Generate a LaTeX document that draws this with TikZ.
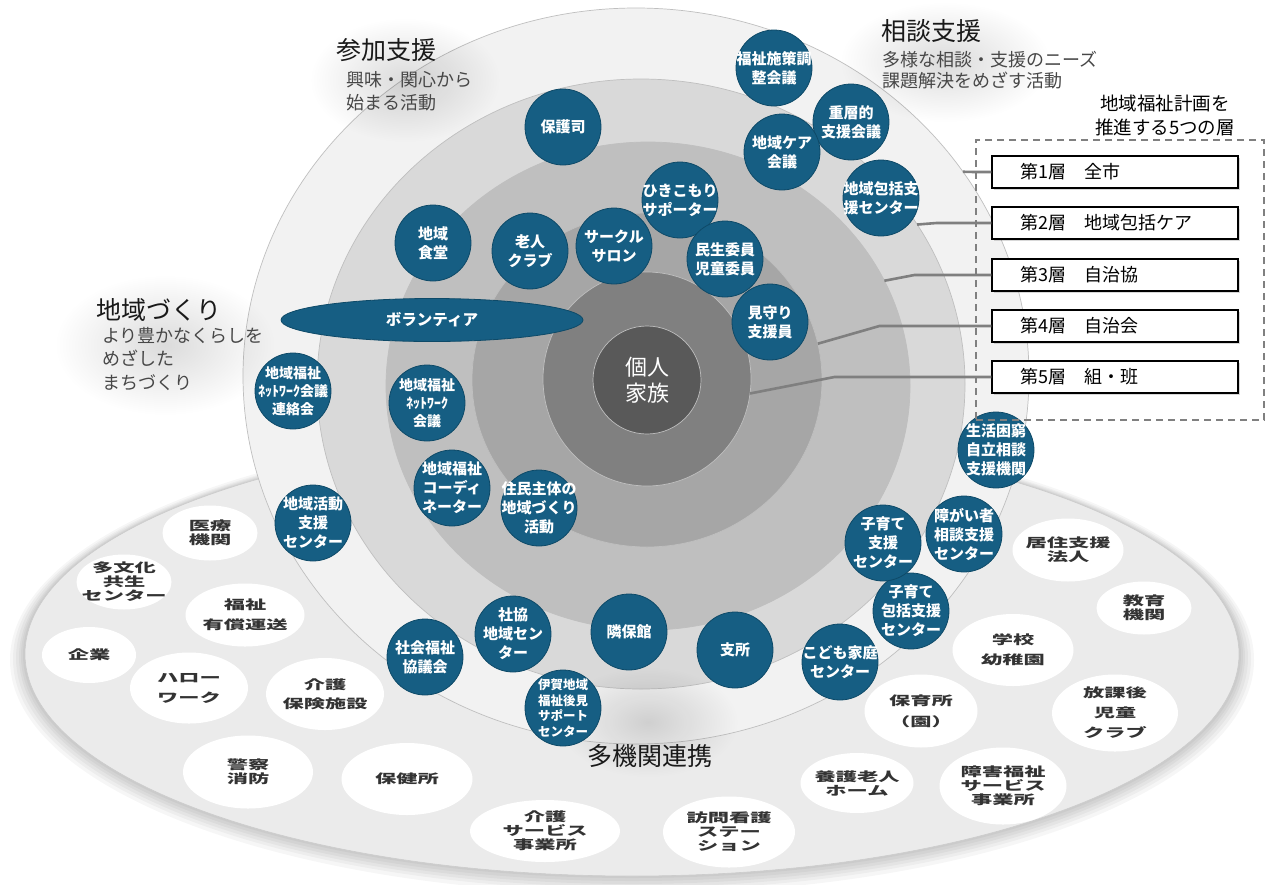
\documentclass[tikz,border=0pt]{standalone}
\usepackage{fontspec}
\setmainfont{Noto Sans CJK JP}
\newfontfamily\widefont[FakeStretch=1.7]{Noto Sans CJK JP}
\usetikzlibrary{positioning,shapes.geometric,shadows,fadings}

\definecolor{unitblue}{HTML}{165E83}
\definecolor{unitedge}{HTML}{0E4A68}
\definecolor{ringA}{HTML}{F2F2F2}
\definecolor{ringB}{HTML}{D9D9D9}
\definecolor{ringC}{HTML}{BFBFBF}
\definecolor{ringD}{HTML}{A6A6A6}
\definecolor{ringE}{HTML}{808080}
\definecolor{ringcore}{HTML}{595959}
\definecolor{floorgray}{HTML}{EBEBEB}
\definecolor{linegray}{HTML}{7F7F7F}

\tikzfading[name=glowfade, inner color=transparent!86, outer color=transparent!100]

\tikzset{
  ring/.style={ellipse, inner sep=0pt, outer sep=0pt, draw=black!25, line width=0.7pt},
  unitbase/.style={circle, fill=unitblue, draw=unitedge, line width=0.8pt, minimum size=76pt, inner sep=0pt},
  unittext/.style={text=white, align=center, inner sep=0pt, font=\fontsize{15}{19}\selectfont\bfseries},
  unit/.style={unitbase, label={[unittext]center:#1}},
  unitmd/.style={unitbase, label={[unittext, font=\fontsize{14}{18}\selectfont\bfseries]center:#1}},
  unitsm/.style={unitbase, label={[unittext, font=\fontsize{12.5}{15.5}\selectfont\bfseries]center:#1}},
  agencytext/.style={text=black!80, align=center, inner sep=0pt, font=\widefont\bfseries\fontsize{12.5}{14}\selectfont},
  agency/.style={ellipse, fill=white, inner sep=0pt, label={[agencytext]center:#1}},
  title/.style={inner sep=0pt, text=black!90, font=\fontsize{25}{30}\selectfont},
  subtitle/.style={inner sep=0pt, text=black!72, align=left, font=\fontsize{18}{23.5}\selectfont},
  floorshade/.style={fill=black, opacity=0.035},
  legendbox/.style={draw=black!50, line width=1.8pt, dash pattern=on 7pt off 5pt, minimum width=288pt, minimum height=280pt, inner sep=0pt},
  layer/.style={draw=black, line width=1.2pt, fill=white, minimum width=246pt, minimum height=32pt, text width=190pt, inner xsep=28pt, inner ysep=0pt, align=left, font=\fontsize{18}{20}\selectfont, drop shadow={shadow xshift=1.5pt, shadow yshift=-1.5pt, opacity=0.3}},
  layerline/.style={draw=linegray, line width=2.6pt}
}

\begin{document}
\begin{tikzpicture}[x=1pt,y=-1pt]
\useasboundingbox[fill=white] (0,0) rectangle (1269,884);

% floor of the agencies, with a soft shadow
\fill[floorshade] (632,660) ellipse [x radius=622pt, y radius=234pt];
\fill[floorshade] (632,659) ellipse [x radius=619pt, y radius=231pt];
\fill[floorshade] (632,658) ellipse [x radius=616pt, y radius=229pt];
\fill[floorshade] (632,657) ellipse [x radius=613pt, y radius=227pt];
\fill[floorshade] (632,656) ellipse [x radius=611pt, y radius=225pt];
\fill[floorshade] (632,655) ellipse [x radius=609pt, y radius=223pt];
\node[ellipse, fill=floorgray, draw=black!20, line width=0.6pt, minimum width=1214pt, minimum height=444pt, inner sep=0pt] (floor) at (632,654) {};

% five layers
\node[ring, fill=ringA, minimum width=786pt, minimum height=736pt] (ringA) at (636,376) {};
\node[ring, fill=ringB, minimum width=648pt, minimum height=610pt] (ringB) at (641,384) {};
\node[ring, fill=ringC, minimum width=524pt, minimum height=488pt] (ringC) at (648,386) {};
\node[ring, fill=ringD, minimum width=350pt, minimum height=334pt] (ringD) at (647,380) {};
\node[ring, fill=ringE, minimum width=208pt, minimum height=214pt] (ringE) at (647,379) {};
\node[ring, circle, fill=ringcore, minimum size=108pt, text=white, align=center, font=\fontsize{22}{26}\selectfont] (kojin) at (647,380) {個人\\家族};

% agencies on the floor
\node[agency={医療\\機関}, minimum width=95pt, minimum height=55pt] (iryo) at (210,533) {};
\node[agency={多文化\\共生\\センター}, minimum width=95pt, minimum height=55pt] (tabunka) at (124,582) {};
\node[agency={福祉\\[6pt]有償運送}, minimum width=119pt, minimum height=63pt] (yusho) at (245,615) {};
\node[agency={企業}, minimum width=94pt, minimum height=56pt] (kigyo) at (89,655) {};
\node[agency={ハロー\\[6pt]ワーク}, minimum width=118pt, minimum height=71pt] (hellowork) at (189,688) {};
\node[agency={介護\\[5pt]保険施設}, minimum width=118pt, minimum height=72pt] (kaigoshisetsu) at (325,694) {};
\node[agency={警察\\消防}, minimum width=130pt, minimum height=73pt] (keisatsu) at (248,772) {};
\node[agency={保健所}, minimum width=131pt, minimum height=72pt] (hokenjo) at (407,779) {};
\node[agency={介護\\サービス\\事業所}, minimum width=150pt, minimum height=62pt] (kaigoservice) at (545,831) {};
\node[agency={訪問看護\\ステー\\ション}, minimum width=132pt, minimum height=71pt] (houmon) at (729,832) {};
\node[agency={養護老人\\ホーム}, minimum width=113pt, minimum height=60pt] (yogo) at (857,783) {};
\node[agency={居住支援\\法人}, minimum width=111pt, minimum height=63pt] (kyoju) at (1068,550) {};
\node[agency={教育\\機関}, minimum width=95pt, minimum height=53pt] (kyoiku) at (1144,608) {};
\node[agency={学校\\[6pt]幼稚園}, minimum width=121pt, minimum height=72pt] (gakko) at (1013,650) {};
\node[agency={保育所\\[7pt]（園）}, minimum width=113pt, minimum height=73pt] (hoikusho) at (921,711) {};
\node[agency={放課後\\[6pt]児童\\[6pt]クラブ}, minimum width=126pt, minimum height=77pt] (hokago) at (1115,713) {};
\node[agency={障害福祉\\サービス\\事業所}, minimum width=127pt, minimum height=77pt] (shogaifukushi) at (1003,786) {};

% soft glow behind the headings
\fill[black, path fading=glowfade] (405,80) ellipse [x radius=95pt, y radius=62pt];
\fill[black, path fading=glowfade] (945,62) ellipse [x radius=105pt, y radius=60pt];
\fill[black, path fading=glowfade] (165,345) ellipse [x radius=110pt, y radius=70pt];
\fill[black, path fading=glowfade] (648,722) ellipse [x radius=90pt, y radius=55pt];

% units in the layers
\node[unit={福祉施策調\\整会議}] (sesaku) at (774,68) {};
\node[unit={重層的\\支援会議}] (jusou) at (851,122) {};
\node[unit={地域ケア\\会議}] (carekaigi) at (782,152) {};
\node[unit={地域包括支\\援センター}] (houkatsu) at (881,198) {};
\node[unit={保護司}] (hogoshi) at (563,127) {};
\node[unit={ひきこもり\\サポーター}] (hikikomori) at (680,200) {};
\node[unit={サークル\\サロン}] (salon) at (614,246) {};
\node[unit={老人\\クラブ}] (rojin) at (530,251) {};
\node[unit={民生委員\\児童委員}] (minsei) at (725,259) {};
\node[unit={地域\\食堂}] (shokudo) at (433,243) {};
\node[unit={見守り\\支援員}] (mimamori) at (770,322) {};
\node[ellipse, fill=unitblue, draw=unitedge, line width=0.8pt, minimum width=302pt, minimum height=43pt, inner sep=0pt, text=white, font=\fontsize{15.5}{18}\selectfont\bfseries] (volunteer) at (432,320) {ボランティア};
\node[unitmd={地域福祉\\ﾈｯﾄﾜｰｸ会議\\連絡会}] (renrakukai) at (293,391) {};
\node[unitmd={地域福祉\\ﾈｯﾄﾜｰｸ\\会議}] (netkaigi) at (427,403) {};
\node[unit={地域福祉\\コーディ\\ネーター}] (coordinator) at (452,488) {};
\node[unit={住民主体の\\地域づくり\\活動}] (jumin) at (539,508) {};
\node[unit={地域活動\\支援\\センター}] (katsudo) at (313,523) {};
\node[unit={社会福祉\\協議会}] (shakyo) at (425,657) {};
\node[unit={社協\\地域セン\\ター}] (shakyocenter) at (513,634) {};
\node[unit={隣保館}] (rinpokan) at (629,632) {};
\node[unit={支所}] (shisho) at (735,650) {};
\node[unitsm={伊賀地域\\福祉後見\\サポート\\センター}] (kouken) at (563,708) {};
\node[unit={こども家庭\\センター}] (kodomo) at (840,662) {};
\node[unit={子育て\\包括支援\\センター}] (kosodatehoukatsu) at (911,611) {};
\node[unit={子育て\\支援\\センター}] (kosodate) at (883,543) {};
\node[unit={障がい者\\相談支援\\センター}] (shogai) at (964,534) {};
\node[unit={生活困窮\\自立相談\\支援機関}] (seikatsu) at (996,450) {};

% headings
\node[title, anchor=west] (sanka) at (336,50) {参加支援};
\node[subtitle, anchor=north west] (sankasub) at (346,71) {興味・関心から\\始まる活動};
\node[title, anchor=west] (sodan) at (881,31) {相談支援};
\node[subtitle, anchor=north west, font=\fontsize{18}{21.5}\selectfont] (sodansub) at (882,51) {多様な相談・支援のニーズ\\課題解決をめざす活動};
\node[title, anchor=west] (chiiki) at (96,310) {地域づくり};
\node[subtitle, anchor=north west] (chiikisub) at (102,327) {より豊かなくらしを\\めざした\\まちづくり};
\node[title] (takikan) at (650,756) {多機関連携};

% five layers of the plan
\node[legendbox] (legend) at (1120,280) {};
\node[align=center, inner sep=0pt, font=\fontsize{18.5}{24}\selectfont] (legendtitle) at (1165,115) {地域福祉計画を\\推進する5つの層};
\node[layer] (layer1) at (1115,172) {第1層　全市};
\node[layer] (layer2) at (1115,223) {第2層　地域包括ケア};
\node[layer] (layer3) at (1115,275) {第3層　自治協};
\node[layer] (layer4) at (1115,326) {第4層　自治会};
\node[layer] (layer5) at (1115,377) {第5層　組・班};

\draw[layerline] (ringA.32) -- ([xshift=-17pt]layer1.west) -- (layer1.west);
\draw[layerline] (ringB.30) -- ([xshift=-55pt]layer2.west) -- (layer2.west);
\draw[layerline] (ringC.24) -- ([xshift=-77pt]layer3.west) -- (layer3.west);
\draw[layerline] (ringD.12) -- ([xshift=-112pt]layer4.west) -- (layer4.west);
\draw[layerline] (ringE.-8) -- ([xshift=-157pt]layer5.west) -- (layer5.west);
\end{tikzpicture}
\end{document}
